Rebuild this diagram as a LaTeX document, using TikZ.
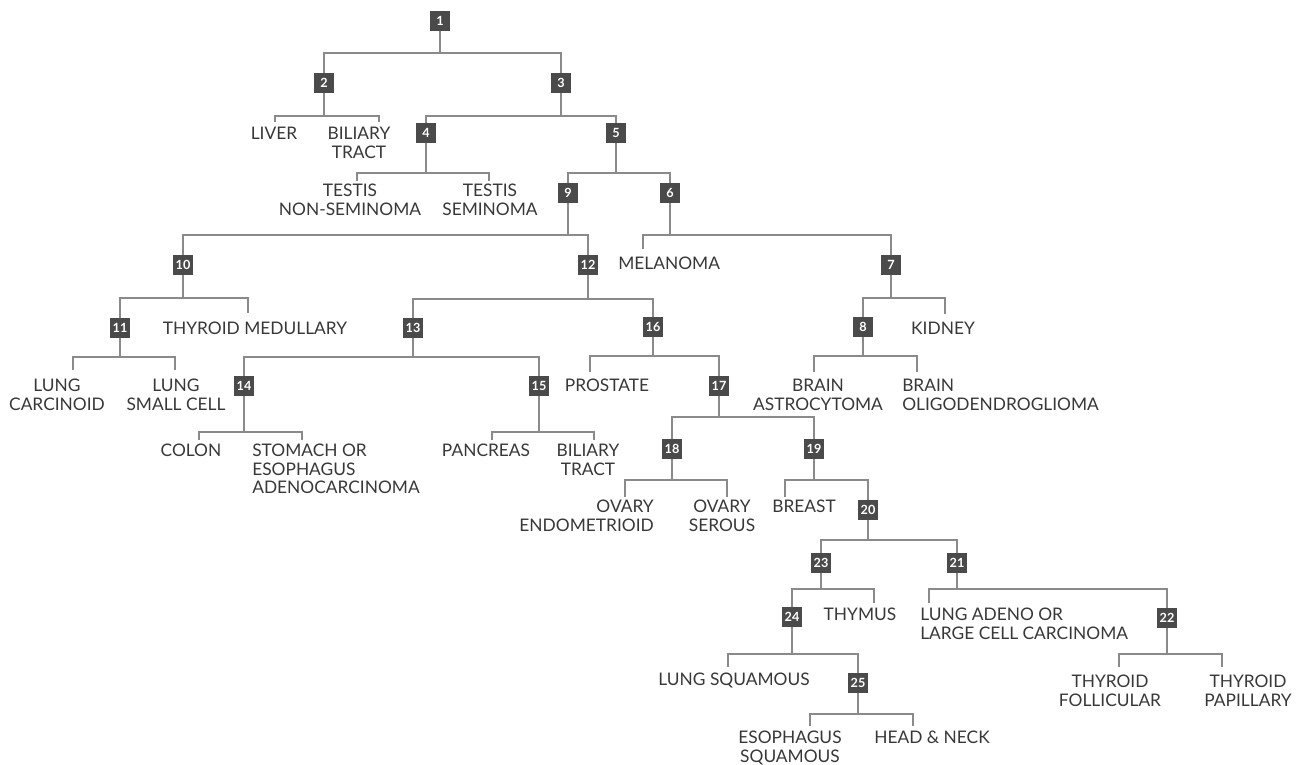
\documentclass[tikz,border=0pt]{standalone}
\usepackage{fontspec}
\setmainfont{Lato}
\definecolor{boxgray}{HTML}{4A4A4A}
\definecolor{linkgray}{HTML}{8A8A8A}
\definecolor{labelgray}{HTML}{383838}

\begin{document}
\begin{tikzpicture}[
      x=0.75pt, y=-0.75pt,
      box/.style={fill=boxgray, text=white, font=\fontsize{9.5}{9.5}\selectfont\bfseries, minimum size=15pt, inner sep=0pt},
      leaf/.style={text=labelgray, font=\fontsize{13}{13.9}\selectfont, align=center, inner sep=0pt, anchor=north},
      link/.style={draw=linkgray, line width=1.4pt},
    ]
    \fill[white] (0,0) rectangle (1298,764);
    \useasboundingbox (0,0) rectangle (1298,764);

    \node[box] (n1) at (440,21) {1};
    \node[box] (n2) at (324,83) {2};
    \node[box] (n3) at (561,83) {3};
    \node[box] (n4) at (426,133) {4};
    \node[box] (n5) at (616,133) {5};
    \node[box] (n9) at (568,193) {9};
    \node[box] (n6) at (670,193) {6};
    \node[box] (n10) at (183,265) {10};
    \node[box] (n12) at (588,265) {12};
    \node[box] (n7) at (891,265) {7};
    \node[box] (n11) at (120,328) {11};
    \node[box] (n13) at (413,328) {13};
    \node[box] (n16) at (653,327) {16};
    \node[box] (n8) at (863,327) {8};
    \node[box] (n14) at (244,386) {14};
    \node[box] (n15) at (539,386) {15};
    \node[box] (n17) at (719,386) {17};
    \node[box] (n18) at (672,449) {18};
    \node[box] (n19) at (814,449) {19};
    \node[box] (n20) at (868,510) {20};
    \node[box] (n23) at (821,563) {23};
    \node[box] (n21) at (957,563) {21};
    \node[box] (n24) at (792,617) {24};
    \node[box] (n22) at (1167,618) {22};
    \node[box] (n25) at (858,683) {25};

    \node[leaf] (liver) at (274,127) {LIVER};
    \node[leaf] (biliaryA) at (359,127) {BILIARY\\TRACT};
    \node[leaf] (testisN) at (350,184) {TESTIS\\NON-SEMINOMA};
    \node[leaf] (testisS) at (490,184) {TESTIS\\SEMINOMA};
    \node[leaf, anchor=north west] (melanoma) at (618,257) {MELANOMA};
    \node[leaf] (thyroidM) at (255,322) {THYROID MEDULLARY};
    \node[leaf] (kidney) at (943,322) {KIDNEY};
    \node[leaf] (carcinoid) at (57,379) {LUNG\\CARCINOID};
    \node[leaf] (smallcell) at (176,379) {LUNG\\SMALL CELL};
    \node[leaf] (prostate) at (607,379) {PROSTATE};
    \node[leaf] (astro) at (818,379) {BRAIN\\ASTROCYTOMA};
    \node[leaf, anchor=north west, align=left] (oligo) at (902,379) {BRAIN\\OLIGODENDROGLIOMA};
    \node[leaf] (colon) at (191,444) {COLON};
    \node[leaf, anchor=north west, align=left] (stomach) at (252,444) {STOMACH OR\\ESOPHAGUS\\ADENOCARCINOMA};
    \node[leaf] (pancreas) at (486,444) {PANCREAS};
    \node[leaf] (biliaryB) at (588,444) {BILIARY\\TRACT};
    \node[leaf, anchor=north east, align=right] (endo) at (654,500) {OVARY\\ENDOMETRIOID};
    \node[leaf] (serous) at (722,500) {OVARY\\SEROUS};
    \node[leaf] (breast) at (804,500) {BREAST};
    \node[leaf] (thymus) at (860,608) {THYMUS};
    \node[leaf, anchor=north west, align=left] (adeno) at (920,608) {LUNG ADENO OR\\LARGE CELL CARCINOMA};
    \node[leaf] (lsquam) at (734,673) {LUNG SQUAMOUS};
    \node[leaf] (follic) at (1110,675) {THYROID\\FOLLICULAR};
    \node[leaf] (papill) at (1248,675) {THYROID\\PAPILLARY};
    \node[leaf] (esoph) at (790,731) {ESOPHAGUS\\SQUAMOUS};
    \node[leaf] (head) at (932,731) {HEAD \& NECK};

    \foreach \n/\x/\y in {liver/275/122, biliaryA/379/122, testisN/357/181, testisS/489/181,
        melanoma/643/249, thyroidM/248/313, kidney/945/314, carcinoid/73/370, smallcell/175/370,
        prostate/590/372, astro/814/372, oligo/917/372, colon/199/440, stomach/302/440,
        pancreas/492/440, biliaryB/594/440, endo/625/497, serous/727/497, breast/785/497,
        thymus/874/603, adeno/929/603, lsquam/728/667, follic/1119/667, papill/1222/667,
        esoph/810/726, head/913/726}
      \coordinate (\n-t) at (\x,\y);

    \foreach \p/\b/\l/\r in {n1/53/n2/n3, n2/116/liver-t/biliaryA-t, n3/116/n4/n5,
        n4/173/testisN-t/testisS-t, n5/173/n9/n6, n9/235/n10/n12, n6/235/melanoma-t/n7,
        n10/298/n11/thyroidM-t, n12/299/n13/n16, n7/298/n8/kidney-t,
        n11/357/carcinoid-t/smallcell-t, n13/357/n14/n15, n16/356/prostate-t/n17,
        n8/356/astro-t/oligo-t, n14/432/colon-t/stomach-t, n15/432/pancreas-t/biliaryB-t,
        n17/417/n18/n19, n18/480/endo-t/serous-t, n19/480/breast-t/n20, n20/540/n23/n21,
        n23/589/n24/thymus-t, n21/589/adeno-t/n22, n24/654/lsquam-t/n25,
        n22/654/follic-t/papill-t, n25/714/esoph-t/head-t} {
      \draw[link] (\p.south) -- (\p |- 0,\b);
      \draw[link] (\l) |- (\p |- 0,\b) -| (\r);
    }
\end{tikzpicture}
\end{document}
